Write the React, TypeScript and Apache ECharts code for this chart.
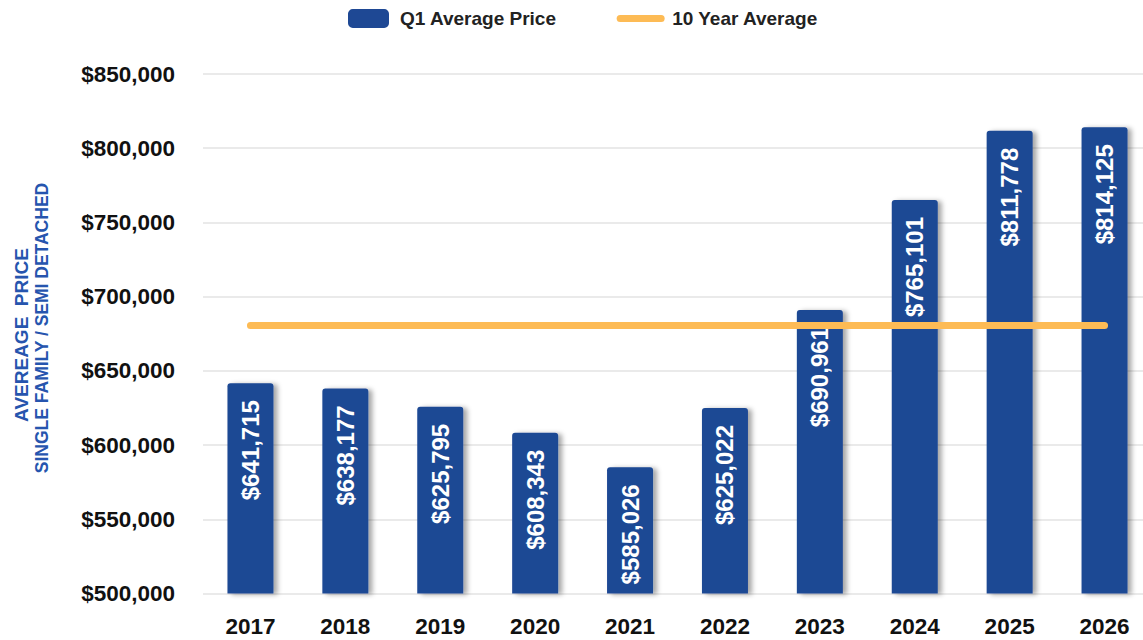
import React, { useEffect, useRef } from "react";
import * as echarts from "echarts";

const years = ["2017", "2018", "2019", "2020", "2021", "2022", "2023", "2024", "2025", "2026"];
const q1AveragePrice = [641715, 638177, 625795, 608343, 585026, 625022, 690961, 765101, 811778, 814125];
const tenYearAverage = [680604, 680604, 680604, 680604, 680604, 680604, 680604, 680604, 680604, 680604];
const yTicks = { min: 500000, max: 850000, interval: 50000 };

const FONT = 'Arial, "Liberation Sans", Helvetica, sans-serif';
const BAR_BLUE = "#1E4894";
const LINE_ORANGE = "#FDBB55";
const TITLE_BLUE = "#2655AE";

const fmt = (v: number) => "$" + v.toLocaleString("en-US");

export default function App() {
  const ref = useRef<HTMLDivElement>(null);
  useEffect(() => {
    if (!ref.current) return;
    const chart = echarts.init(ref.current, null, { renderer: "svg" });
    chart.setOption({
      animation: false,
      backgroundColor: "#ffffff",
      legend: {
        left: 343,
        top: 4,
        itemWidth: 41,
        itemHeight: 19,
        itemGap: 60,
        textStyle: { fontFamily: FONT, fontWeight: "bold", fontSize: 19, color: "#222", padding: [0, 0, 0, 6] },
        data: [
          { name: "Q1 Average Price", icon: "roundRect" },
          { name: "10 Year Average", itemStyle: { opacity: 0 } },
        ],
        lineStyle: { width: "inherit" },
      },
      grid: { left: 203, top: 74, width: 949, height: 519.5, containLabel: false },
      xAxis: {
        type: "category",
        data: years,
        axisLine: { show: false },
        axisTick: { show: false },
        axisLabel: { fontFamily: FONT, fontWeight: "bold", fontSize: 22.5, color: "#111", margin: 21 },
      },
      yAxis: {
        type: "value",
        min: yTicks.min,
        max: yTicks.max,
        interval: yTicks.interval,
        axisLine: { show: false },
        axisTick: { show: false },
        splitLine: { lineStyle: { color: "#e3e3e3", width: 1.5 } },
        axisLabel: {
          fontFamily: FONT,
          fontWeight: "bold",
          fontSize: 22.5,
          color: "#111",
          margin: 28,
          formatter: (v: number) => fmt(v),
        },
      },
      graphic: [
        {
          type: "text",
          x: 21,
          y: 335,
          rotation: Math.PI / 2,
          style: {
            text: "AVEREAGE  PRICE",
            fill: TITLE_BLUE,
            font: `bold 19px ${FONT}`,
            align: "center",
            verticalAlign: "middle",
          },
        },
        {
          type: "text",
          x: 42,
          y: 328,
          rotation: Math.PI / 2,
          style: {
            text: "SINGLE FAMILY / SEMI DETACHED",
            fill: TITLE_BLUE,
            font: `bold 17.5px ${FONT}`,
            align: "center",
            verticalAlign: "middle",
          },
        },
      ],
      series: [
        {
          name: "Q1 Average Price",
          type: "bar",
          data: q1AveragePrice,
          barWidth: 46,
          itemStyle: {
            color: BAR_BLUE,
            borderRadius: [3, 3, 0, 0],
            shadowColor: "rgba(0,0,0,0.35)",
            shadowBlur: 5,
            shadowOffsetX: 4,
            shadowOffsetY: 1,
          },
          label: {
            show: true,
            position: "insideTop",
            rotate: 90,
            align: "right",
            verticalAlign: "middle",
            distance: 17,
            color: "#fff",
            fontFamily: FONT,
            fontWeight: "bold",
            fontSize: 24,
            formatter: (p: any) => fmt(p.value),
          },
        },
        {
          name: "10 Year Average",
          type: "line",
          data: tenYearAverage,
          symbol: "none",
          itemStyle: { color: LINE_ORANGE },
          lineStyle: { color: LINE_ORANGE, width: 7, cap: "round" },
          z: 3,
        },
      ],
    });
    return () => chart.dispose();
  }, []);
  return (
    <div
      ref={ref}
      style={{ position: "absolute", left: 0, top: 0, width: 1160, height: 640 }}
    />
  );
}
